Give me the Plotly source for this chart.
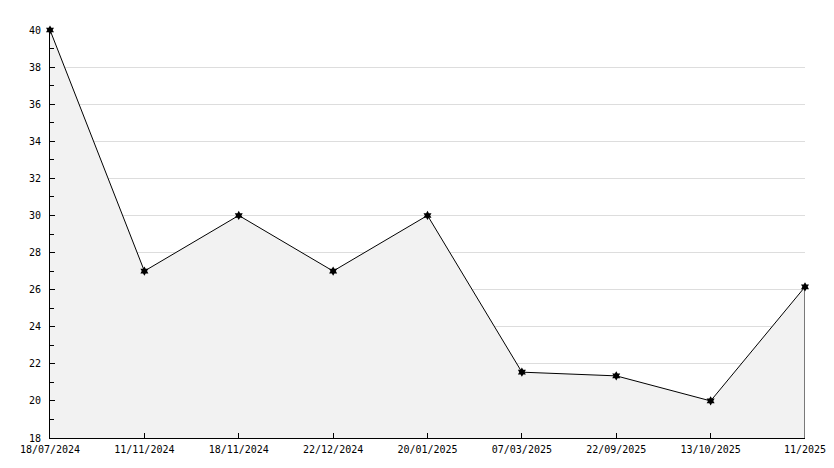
import plotly.graph_objects as go

dates = ["18/07/2024", "11/11/2024", "18/11/2024", "22/12/2024", "20/01/2025",
         "07/03/2025", "22/09/2025", "13/10/2025", "11/2025"]
values = [40, 27, 30, 27, 30, 21.55, 21.35, 20, 26.15]
y_min = 18
y_max = 40

fig = go.Figure()

fig.add_trace(go.Scatter(x=dates, y=values, mode="lines+markers",
                         fill="tozeroy", fillcolor="#f2f2f2",
                         line=dict(color="black", width=1),
                         marker=dict(symbol="hexagram", size=7, color="black"),
                         cliponaxis=False, showlegend=False))

# closing edge of the filled area on the right
fig.add_trace(go.Scatter(x=[dates[-1], dates[-1]], y=[values[-1], y_min], mode="lines",
                         line=dict(color="black", width=1), showlegend=False,
                         cliponaxis=False, hoverinfo="skip"))

font = dict(family="DejaVu Sans Mono", size=10, color="black")

# page body has an 8px margin, so the figure is a bit smaller than the window
fig.update_layout(
    width=826, height=460,
    margin=dict(l=42, r=29, t=22, b=30),
    paper_bgcolor="white", plot_bgcolor="white",
    font=font,
)

fig.update_xaxes(type="category", range=[0, len(dates) - 1], automargin=False,
                 showgrid=False, showline=True, linecolor="black", linewidth=1,
                 ticks="inside", ticklen=5, tickcolor="black", ticklabelstandoff=2,
                 tickfont=font, zeroline=False)

fig.update_yaxes(range=[y_min, y_max], dtick=2, tick0=0, automargin=False,
                 showgrid=True, gridcolor="#dddddd", gridwidth=1,
                 showline=True, linecolor="black", linewidth=1,
                 ticks="inside", ticklen=5, tickcolor="black", ticklabelstandoff=6,
                 minor=dict(dtick=1, ticks="inside", ticklen=4, tickcolor="black", showgrid=False),
                 tickfont=font, zeroline=False)

fig.write_html("out.html")
